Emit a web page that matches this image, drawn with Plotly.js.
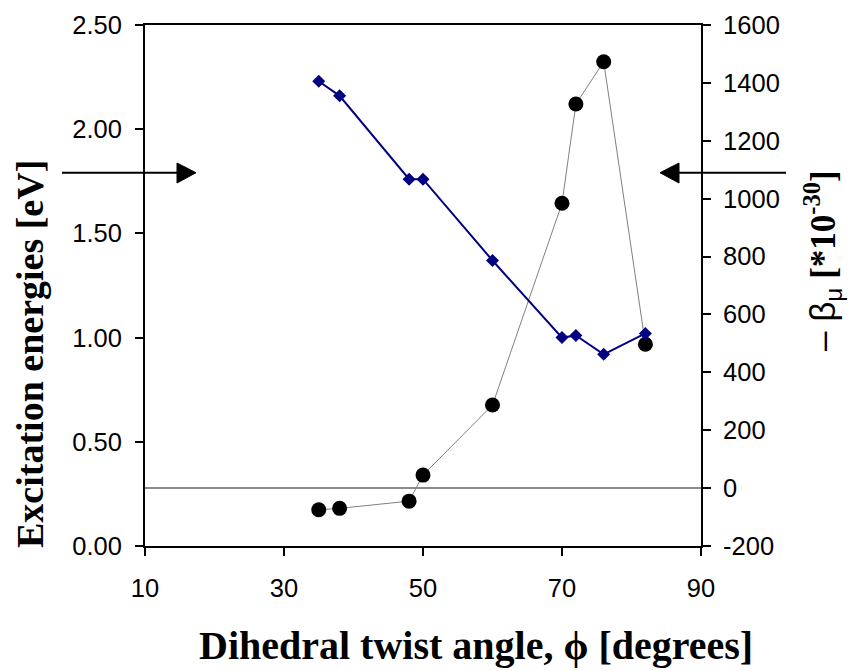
<!DOCTYPE html>
<html>
<head>
<meta charset="utf-8">
<script src="https://cdn.plot.ly/plotly-3.0.1.min.js"></script>
<style>html,body{margin:0;padding:0;background:#fff;}</style>
</head>
<body>
<div id="chart" style="width:849px;height:671px;"></div>
<script>
// Dihedral twist angle (degrees)
const angles = [35, 38, 48, 50, 60, 70, 72, 76, 82];
// Excitation energies [eV] (left axis)
const energies = [2.23, 2.16, 1.76, 1.76, 1.37, 1.00, 1.01, 0.92, 1.02];
// -beta_mu [*10^-30] (right axis)
const beta = [-75, -70, -45, 45, 287, 984, 1327, 1473, 497];

const xTicks = [10, 30, 50, 70, 90];
const energyTicks = [0, 0.5, 1.0, 1.5, 2.0, 2.5];
const betaTicks = [-200, 0, 200, 400, 600, 800, 1000, 1200, 1400, 1600];

const tickFont = {family: 'Arial, Liberation Sans, sans-serif', size: 25.5, color: '#000'};
const serif = 'Times New Roman, Liberation Serif, serif';

const traces = [
  {
    x: angles, y: beta, yaxis: 'y', type: 'scatter', mode: 'lines+markers',
    line: {color: '#808080', width: 1},
    marker: {symbol: 'circle', size: 15, color: '#000'},
    hoverinfo: 'skip'
  },
  {
    x: angles, y: energies, yaxis: 'y2', type: 'scatter', mode: 'lines+markers',
    line: {color: '#000080', width: 2},
    marker: {symbol: 'diamond', size: 10, color: '#000080'},
    hoverinfo: 'skip'
  }
];

function P(px) { return (px - 145) / 556; }
function Q(py) { return (546 - py) / 521; }

const layout = {
  width: 849, height: 671,
  margin: {l: 145, r: 148, t: 25, b: 125, pad: 0},
  paper_bgcolor: '#fff', plot_bgcolor: '#fff',
  showlegend: false,
  xaxis: {
    range: [10, 90], tickvals: xTicks, ticktext: xTicks.map(String),
    showline: true, linecolor: '#000', linewidth: 2, mirror: true,
    ticks: 'outside', ticklen: 8, tickwidth: 2, tickcolor: '#000',
    showgrid: false, zeroline: false, tickfont: tickFont, ticklabelstandoff: 10
  },
  yaxis: {
    range: [-200, 1600], tickvals: betaTicks, ticktext: betaTicks.map(String),
    side: 'right',
    showline: true, linecolor: '#000', linewidth: 2,
    ticks: 'outside', ticklen: 8, tickwidth: 2, tickcolor: '#000',
    showgrid: false, zeroline: true, zerolinecolor: '#8c8c8c', zerolinewidth: 1.5,
    tickfont: tickFont, ticklabelstandoff: 7
  },
  yaxis2: {
    range: [0, 2.5], tickvals: energyTicks, ticktext: energyTicks.map(v => v.toFixed(2)),
    side: 'left', overlaying: 'y',
    showline: true, linecolor: '#000', linewidth: 2,
    ticks: 'outside', ticklen: 8, tickwidth: 2, tickcolor: '#000',
    showgrid: false, zeroline: false, tickfont: tickFont, ticklabelstandoff: 8
  },
  annotations: [
    {
      text: '<b>Dihedral twist angle, ϕ [degrees]</b>',
      xref: 'paper', yref: 'paper', x: P(476), y: Q(645),
      xanchor: 'center', yanchor: 'middle', showarrow: false,
      font: {family: serif, size: 40, color: '#000'}
    },
    {
      text: '<b>Excitation energies [eV]</b>',
      xref: 'paper', yref: 'paper', x: P(30), y: Q(354), textangle: -90,
      xanchor: 'center', yanchor: 'middle', showarrow: false,
      font: {family: serif, size: 38, color: '#000'}
    },
    {
      text: '<span style="font-family:Arial">– β<sub>μ</sub></span> <b>[*10<sup>-30</sup>]</b>',
      xref: 'paper', yref: 'paper', x: P(822), y: Q(261), textangle: -90,
      xanchor: 'center', yanchor: 'middle', showarrow: false,
      font: {family: serif, size: 35, color: '#000'}
    }
  ],
  shapes: [
    {type: 'line', xref: 'paper', yref: 'paper', x0: P(62), x1: P(180), y0: Q(172.7), y1: Q(172.7),
     line: {color: '#000', width: 2}},
    {type: 'path', xref: 'paper', yref: 'paper',
     path: `M ${P(196)} ${Q(172.7)} L ${P(177)} ${Q(163)} L ${P(177)} ${Q(183)} Z`,
     fillcolor: '#000', line: {color: '#000', width: 1}},
    {type: 'line', xref: 'paper', yref: 'paper', x0: P(676), x1: P(786), y0: Q(172.7), y1: Q(172.7),
     line: {color: '#000', width: 2}},
    {type: 'path', xref: 'paper', yref: 'paper',
     path: `M ${P(660)} ${Q(172.7)} L ${P(679)} ${Q(163)} L ${P(679)} ${Q(183)} Z`,
     fillcolor: '#000', line: {color: '#000', width: 1}}
  ]
};

Plotly.newPlot('chart', traces, layout, {staticPlot: true, displayModeBar: false});
</script>
</body>
</html>
